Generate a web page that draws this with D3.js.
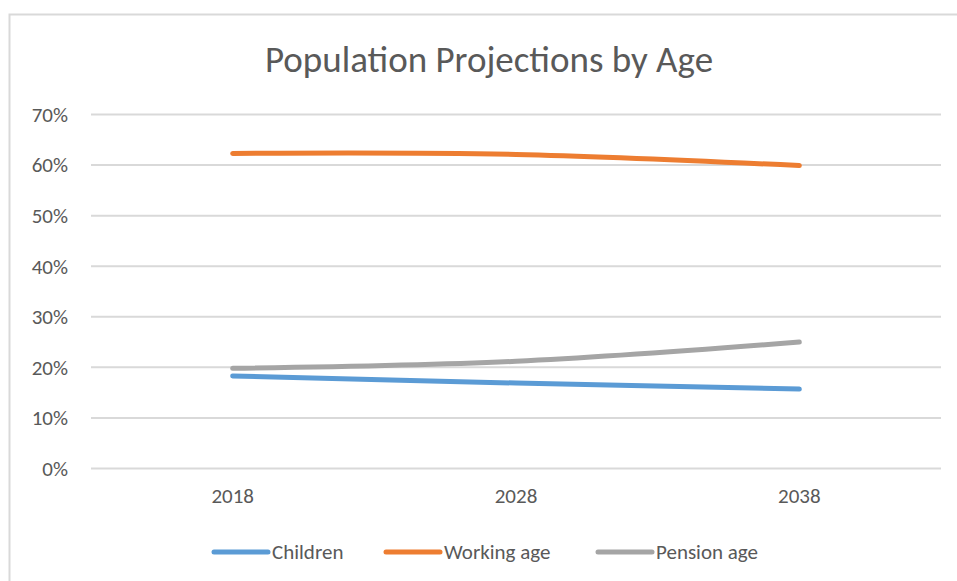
<!DOCTYPE html>
<html>
<head>
<meta charset="utf-8">
<script src="https://cdn.jsdelivr.net/npm/d3@7"></script>
<style>
    body { margin: 0; background: #fff; }
    text { font-family: Carlito, Lato, "Open Sans", sans-serif; fill: #595959; }
</style>
</head>
<body>
<svg id="chart"></svg>
<script>
// dados
const years = ["2018", "2028", "2038"]
const children = [0.182, 0.168, 0.156]
const workingAge = [0.622, 0.620, 0.598]
const pensionAge = [0.197, 0.211, 0.249]
const seriesNames = ["Children", "Working age", "Pension age"]
const seriesColors = ["#5B9BD5", "#ED7D31", "#A5A5A5"]
const yTicks = [0, 0.1, 0.2, 0.3, 0.4, 0.5, 0.6, 0.7]

const series = [children, workingAge, pensionAge].map((vals, i) => ({
    name: seriesNames[i],
    color: seriesColors[i],
    values: vals.map((v, j) => ({ year: years[j], value: v }))
}))

let svgWidth = 957
let svgHeight = 581
let margin = { left: 91, right: 16, top: 114, bottom: 113 }
let chartWidth = svgWidth - margin.left - margin.right
let chartHeight = svgHeight - margin.top - margin.bottom

const svg = d3.select("#chart")
    .attr("width", svgWidth)
    .attr("height", svgHeight)

// moldura do gráfico
svg.append("rect")
    .attr("x", 9.5).attr("y", 14.5)
    .attr("width", 980).attr("height", 600)
    .attr("fill", "none")
    .attr("stroke", "#d9d9d9")
    .attr("stroke-width", 2)

svg.append("text")
    .attr("x", 489).attr("y", 72)
    .attr("text-anchor", "middle")
    .style("font-size", "37px")
    .text("Population Projections by Age")

let xScale = d3.scaleBand()
    .domain(years)
    .range([0, chartWidth])

let yScale = d3.scaleLinear()
    .domain([0, 0.7])
    .range([chartHeight, 0])

const g = svg.append("g")
    .attr("transform", `translate(${margin.left},${margin.top})`)

// grelha + eixo y
const yAxis = g.append("g")
    .call(d3.axisLeft(yScale)
        .tickValues(yTicks)
        .tickFormat(d3.format(".0%"))
        .tickSizeInner(-chartWidth)
        .tickSizeOuter(0)
        .tickPadding(23))
yAxis.select(".domain").remove()
yAxis.selectAll("line").style("stroke", "#d9d9d9").style("stroke-width", 2)
yAxis.selectAll("text").style("font-size", "21px").style("fill", "#595959")
    .attr("dy", "0.35em")

// eixo x
const xAxis = g.append("g")
    .attr("transform", `translate(0, ${chartHeight})`)
    .call(d3.axisBottom(xScale).tickSize(0).tickPadding(20))
xAxis.select(".domain").remove()
xAxis.selectAll("text").style("font-size", "21px").style("fill", "#595959")

const line = d3.line()
    .x(d => xScale(d.year) + xScale.bandwidth() / 2)
    .y(d => yScale(d.value))
    .curve(d3.curveCatmullRom)

g.selectAll(".serie")
    .data(series)
    .join("path")
    .attr("class", "serie")
    .attr("d", d => line(d.values))
    .attr("fill", "none")
    .attr("stroke", d => d.color)
    .attr("stroke-width", 5)
    .attr("stroke-linecap", "round")

// legenda
const legendX = [214, 386, 598]
const legend = svg.append("g")
    .selectAll("g")
    .data(series)
    .join("g")
    .attr("transform", (d, i) => `translate(${legendX[i]}, 552)`)

legend.append("line")
    .attr("x1", 0).attr("x2", 54)
    .attr("stroke", d => d.color)
    .attr("stroke-width", 5)
    .attr("stroke-linecap", "round")

legend.append("text")
    .attr("x", 58).attr("dy", "0.35em")
    .style("font-size", "21px")
    .text(d => d.name)
</script>
</body>
</html>
